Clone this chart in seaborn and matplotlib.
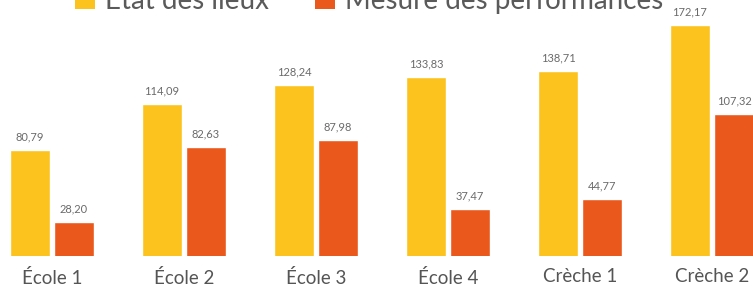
import matplotlib
matplotlib.use("Agg")
import matplotlib.pyplot as plt
import seaborn as sns
import pandas as pd
from matplotlib.patches import Patch

categories = ["École 1", "École 2", "École 3", "École 4", "Crèche 1", "Crèche 2"]
etat_des_lieux = [80.79, 114.09, 128.24, 133.83, 138.71, 172.17]
mesure_perf = [28.20, 82.63, 87.98, 37.47, 44.77, 107.32]
series_names = ["État des lieux", "Mesure des performances"]
colors = ["#FCC31E", "#EB581C"]

df = pd.DataFrame({
    "cat": categories * 2,
    "val": etat_des_lieux + mesure_perf,
    "serie": [series_names[0]] * len(categories) + [series_names[1]] * len(categories),
})

sns.set_theme(style="white")
plt.rcParams["font.family"] = ["Lato", "DejaVu Sans"]

fig = plt.figure(figsize=(7.53, 2.87), dpi=100)
ax = fig.add_axes([0, 31 / 287, 1, 256 / 287])

sns.barplot(data=df, x="cat", y="val", hue="serie", palette=colors,
            width=0.667, gap=0.09, ax=ax, legend=False, saturation=1)

for cont in ax.containers:
    labels = [f"{b.get_height():.2f}".replace(".", ",") for b in cont]
    ax.bar_label(cont, labels=labels, padding=5.5, fontsize=8, color="#6a6a6a")

ax.set_xlim(-52 / 132, (753 - 52) / 132)
ax.set_ylim(3.07, 190.5)
for s in ax.spines.values():
    s.set_visible(False)
ax.set_yticks([])
ax.set_xlabel("")
ax.set_ylabel("")
ax.tick_params(axis="x", length=0, pad=9, labelsize=13.5, labelcolor="#555555")

handles = [Patch(facecolor=c, edgecolor="none") for c in colors]
fig.legend(handles, series_names, loc="center", bbox_to_anchor=(369 / 753, 0.998),
           ncol=2, frameon=False, fontsize=20, handlelength=0.72, handleheight=0.72,
           handletextpad=0.36, columnspacing=1.65, labelcolor="#5a5a5a")

fig.savefig("out.png", dpi=100)
